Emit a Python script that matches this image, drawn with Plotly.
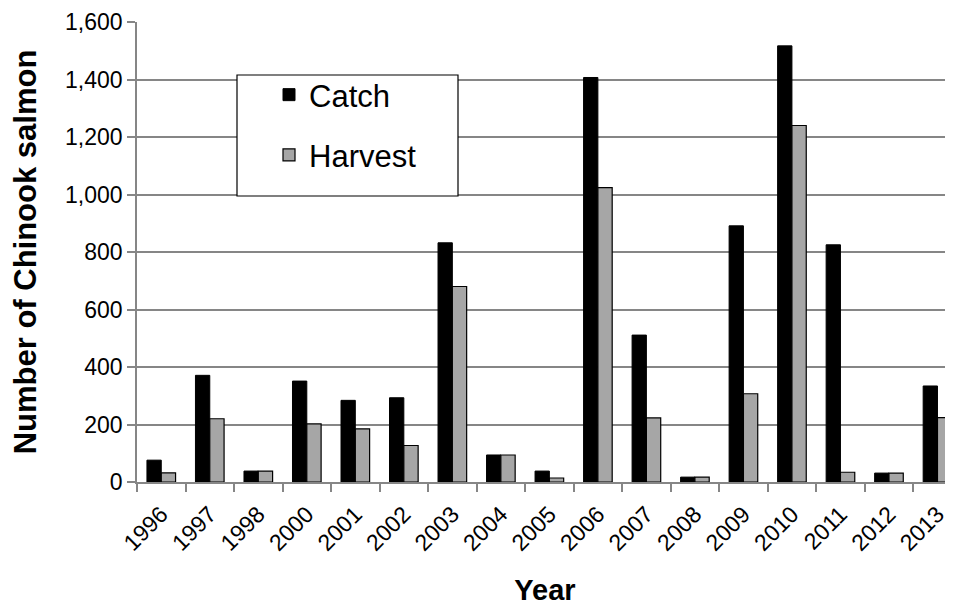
import plotly.graph_objects as go

years = ["1996", "1997", "1998", "2000", "2001", "2002", "2003", "2004", "2005",
         "2006", "2007", "2008", "2009", "2010", "2011", "2012", "2013"]
catch = [76, 371, 38, 351, 284, 293, 832, 94, 38, 1407, 511, 17, 891, 1517, 825, 31, 334]
harvest = [32, 220, 38, 202, 185, 127, 680, 94, 14, 1024, 223, 17, 307, 1240, 34, 31, 224]

FONT = "Liberation Sans, Arial, sans-serif"

fig = go.Figure()
fig.add_trace(go.Bar(x=years, y=catch, name="Catch", legendgroup="c",
                     marker=dict(color="#000000", line=dict(color="#000000", width=1))))
fig.add_trace(go.Bar(x=years, y=harvest, name="Harvest", legendgroup="h",
                     marker=dict(color="#a6a6a6", line=dict(color="#000000", width=1.2))))

# page has an 8px body margin; figure is sized/placed to compensate
OFF = 8
W, H = 953 - OFF, 606 - OFF
L, T, B = 137 - OFF, 22 - OFF, 124
pw, ph = W - L, H - T - B

def px_x(x):  # page pixel -> paper fraction
    return (x - OFF - L) / pw

def px_y(y):
    return (H - B - (y - OFF)) / ph

fig.update_layout(
    width=W, height=H,
    margin=dict(l=L, r=0, t=T, b=B, autoexpand=False),
    paper_bgcolor="white", plot_bgcolor="white",
    font=dict(family=FONT, color="black"),
    barmode="group", bargap=0.41, bargroupgap=0,
    showlegend=True,
    legend=dict(x=px_x(269), y=px_y(68), xanchor="left", yanchor="top",
                bgcolor="rgba(0,0,0,0)", borderwidth=0,
                font=dict(size=31, family=FONT), tracegroupgap=17,
                traceorder="grouped"),
    shapes=[dict(type="rect", xref="paper", yref="paper",
                 x0=px_x(237), x1=px_x(458), y0=px_y(196), y1=px_y(75),
                 fillcolor="white", line=dict(color="black", width=1.2), layer="above")],
)

fig.update_xaxes(
    type="category", range=[-0.5, 16.32], automargin=False,
    showline=True, linecolor="#868686", linewidth=1.5,
    ticks="outside", tickson="boundaries", ticklen=8, tickcolor="#868686", tickwidth=1.5,
    tickangle=-45, tickfont=dict(size=23, family=FONT), ticklabelstandoff=8,
    showgrid=False,
    title=dict(text="<b>Year</b>", font=dict(size=29, family=FONT), standoff=32),
)
fig.update_yaxes(
    range=[0, 1600], dtick=200, tickformat=",", automargin=False,
    showline=True, linecolor="#868686", linewidth=1.5,
    ticks="outside", ticklen=8, tickcolor="#868686", tickwidth=1.5,
    showgrid=True, gridcolor="#868686", gridwidth=1.5,
    tickfont=dict(size=23, family=FONT),
    title=dict(text="<b>Number of Chinook salmon</b>", font=dict(size=31, family=FONT), standoff=20),
    zeroline=False,
)

fig.write_html("out.html")
